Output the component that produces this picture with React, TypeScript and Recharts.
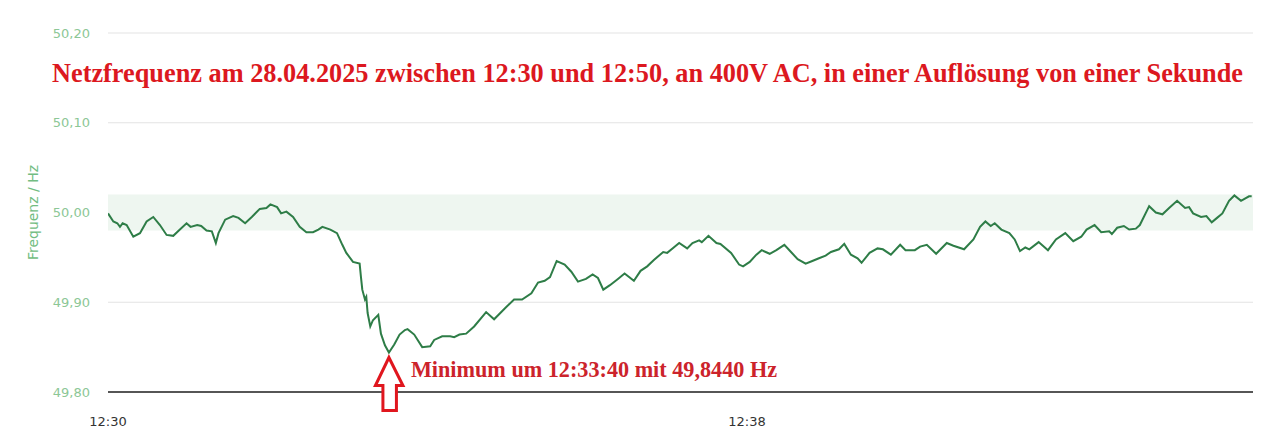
import React from "react";
import {
  LineChart,
  Line,
  XAxis,
  YAxis,
  CartesianGrid,
  ReferenceArea,
  ReferenceDot,
} from "recharts";

// seconds after 12:30:00
const seconds = [
  0, 4, 7, 9, 11, 14, 19, 24, 29, 34, 39, 44, 49, 54, 59, 62, 67, 70, 74, 78,
  81, 83, 88, 94, 98, 103, 108, 114, 119, 122, 127, 130, 134, 139, 144, 149, 154, 158, 161, 167,
  172, 176, 179, 184, 189, 190, 191, 193, 194, 195, 197, 199, 203, 205, 208, 211, 215, 219, 223, 225,
  230, 236, 242, 245, 251, 257, 260, 264, 269, 275, 284, 290, 298, 305, 311, 318, 323, 328, 332, 337,
  343, 348, 353, 359, 364, 368, 372, 377, 383, 388, 395, 400, 405, 410, 417, 420, 424, 429, 435, 439,
  444, 446, 451, 457, 460, 468, 474, 477, 482, 487, 491, 497, 502, 508, 513, 518, 524, 529, 534, 539,
  543, 549, 553, 558, 563, 566, 572, 578, 582, 588, 595, 599, 606, 610, 615, 622, 630, 635, 643, 650,
  655, 659, 663, 666, 671, 677, 681, 685, 689, 692, 699, 706, 712, 719, 725, 731, 735, 741, 746, 752,
  754, 758, 763, 767, 772, 775, 781, 782, 787, 792, 797, 803, 809, 812, 815, 821, 825, 829, 833, 837,
  842, 846, 851, 857, 859,
];

// Netzfrequenz in Hz
const frequency = [
  49.999, 49.99, 49.988, 49.984, 49.988, 49.986, 49.973, 49.977, 49.99, 49.995, 49.986, 49.975, 49.974, 49.981, 49.988, 49.984, 49.986, 49.985, 49.98, 49.979,
  49.966, 49.977, 49.992, 49.996, 49.994, 49.988, 49.995, 50.004, 50.005, 50.009, 50.006, 49.999, 50.001, 49.995, 49.984, 49.978, 49.978, 49.981, 49.984, 49.981,
  49.977, 49.964, 49.955, 49.945, 49.943, 49.928, 49.914, 49.903, 49.906, 49.888, 49.873, 49.88, 49.886, 49.865, 49.852, 49.844, 49.853, 49.864, 49.869, 49.87,
  49.864, 49.85, 49.851, 49.858, 49.862, 49.862, 49.861, 49.864, 49.865, 49.873, 49.889, 49.881, 49.893, 49.903, 49.903, 49.91, 49.922, 49.924, 49.928, 49.946,
  49.942, 49.934, 49.923, 49.926, 49.931, 49.927, 49.914, 49.919, 49.926, 49.932, 49.924, 49.935, 49.94, 49.947, 49.956, 49.955, 49.96, 49.966, 49.96, 49.966,
  49.969, 49.967, 49.974, 49.966, 49.965, 49.955, 49.942, 49.94, 49.945, 49.953, 49.958, 49.954, 49.958, 49.964, 49.956, 49.948, 49.943, 49.946, 49.949, 49.952,
  49.956, 49.959, 49.965, 49.953, 49.949, 49.944, 49.955, 49.96, 49.959, 49.953, 49.964, 49.958, 49.958, 49.962, 49.964, 49.954, 49.966, 49.963, 49.959, 49.97,
  49.984, 49.99, 49.985, 49.988, 49.981, 49.977, 49.97, 49.957, 49.961, 49.959, 49.967, 49.958, 49.97, 49.977, 49.968, 49.973, 49.981, 49.986, 49.978, 49.979,
  49.976, 49.983, 49.985, 49.981, 49.982, 49.986, 50.004, 50.007, 50.0, 49.998, 50.005, 50.013, 50.005, 50.006, 49.999, 49.995, 49.996, 49.989, 49.994, 49.999,
  50.013, 50.019, 50.013, 50.018, 50.018,
];

const yTicks = [49.8, 49.9, 50.0, 50.1, 50.2];
const xTicks = [0, 480];
const xTickLabels = ["12:30", "12:38"];

const toleranceBand = [49.98, 50.02];
const minimumAt = 211;
const minimumValue = 49.844;

const title =
  "Netzfrequenz am 28.04.2025 zwischen 12:30 und 12:50, an 400V AC, in einer Auflösung von einer Sekunde";
const minimumText = "Minimum um 12:33:40 mit 49,8440 Hz";

const data = seconds.map((t, i) => ({ t, f: frequency[i] }));

const AXIS_FONT = "'DejaVu Sans', Verdana, sans-serif";
const SERIF = "'Liberation Serif', 'Times New Roman', serif";

function MinimumMarker(props: any) {
  const { cx, cy } = props;
  if (cx == null || cy == null) return null;
  const pts = [
    [0, 5],
    [14, 33],
    [7.5, 33],
    [7.5, 58],
    [-6, 58],
    [-6, 33],
    [-13.5, 33],
  ]
    .map(([dx, dy]) => `${cx + dx},${cy + dy}`)
    .join(" ");
  return (
    <g>
      <polygon points={pts} fill="#fff" stroke="#e0161e" strokeWidth={3} strokeLinejoin="miter" />
      <text
        x={cx + 22}
        y={cy + 24}
        fill="#cc232b"
        fontFamily={SERIF}
        fontWeight="bold"
        fontSize={22.2}
      >
        {minimumText}
      </text>
    </g>
  );
}

function AxisTitle(props: any) {
  const { viewBox } = props;
  const cy = viewBox.y + viewBox.height / 2;
  return (
    <text
      x={33}
      y={cy}
      transform={`rotate(-90, 33, ${cy})`}
      textAnchor="middle"
      dominantBaseline="central"
      fill="#72bd82"
      fontFamily={AXIS_FONT}
      fontSize={14}
    >
      Frequenz / Hz
    </text>
  );
}

export default function App() {
  return (
    <div style={{ position: "absolute", left: 0, top: 0, width: 1280, height: 437, background: "#fff" }}>
      <LineChart
        width={1280}
        height={437}
        data={data}
        margin={{ top: 33, right: 27, bottom: 0, left: 0 }}
      >
        <ReferenceArea
          y1={toleranceBand[0]}
          y2={toleranceBand[1]}
          fill="#eef6f0"
          fillOpacity={1}
          stroke="none"
          ifOverflow="visible"
        />
        <CartesianGrid vertical={false} stroke="#e3e3e3" />
        <XAxis
          dataKey="t"
          type="number"
          domain={[0, 860]}
          ticks={xTicks}
          tickFormatter={(v: number) => xTickLabels[xTicks.indexOf(v)] ?? ""}
          height={45}
          axisLine={{ stroke: "#222", strokeWidth: 1.6 }}
          tickLine={false}
          tickSize={0}
          tickMargin={25}
          tick={{ fill: "#333", fontSize: 13, fontFamily: AXIS_FONT }}
          allowDataOverflow
        />
        <YAxis
          type="number"
          domain={[49.8, 50.2]}
          ticks={yTicks}
          width={108}
          axisLine={false}
          tickLine={false}
          tickSize={0}
          tickMargin={18}
          tickFormatter={(v: number) => v.toFixed(2).replace(".", ",")}
          tick={{ fill: "#8cc796", fontSize: 13, fontFamily: AXIS_FONT }}
          label={<AxisTitle />}
          allowDataOverflow
        />
        <Line
          type="linear"
          dataKey="f"
          stroke="#2e7d47"
          strokeWidth={2}
          dot={false}
          activeDot={false}
          isAnimationActive={false}
        />
        <ReferenceDot
          x={minimumAt}
          y={minimumValue}
          ifOverflow="visible"
          shape={<MinimumMarker />}
        />
      </LineChart>
      <div
        style={{
          position: "absolute",
          left: 52,
          top: 58,
          color: "#dc1820",
          fontFamily: SERIF,
          fontWeight: "bold",
          fontSize: 26.3,
          whiteSpace: "nowrap",
          lineHeight: "32px",
        }}
      >
        {title}
      </div>
    </div>
  );
}
